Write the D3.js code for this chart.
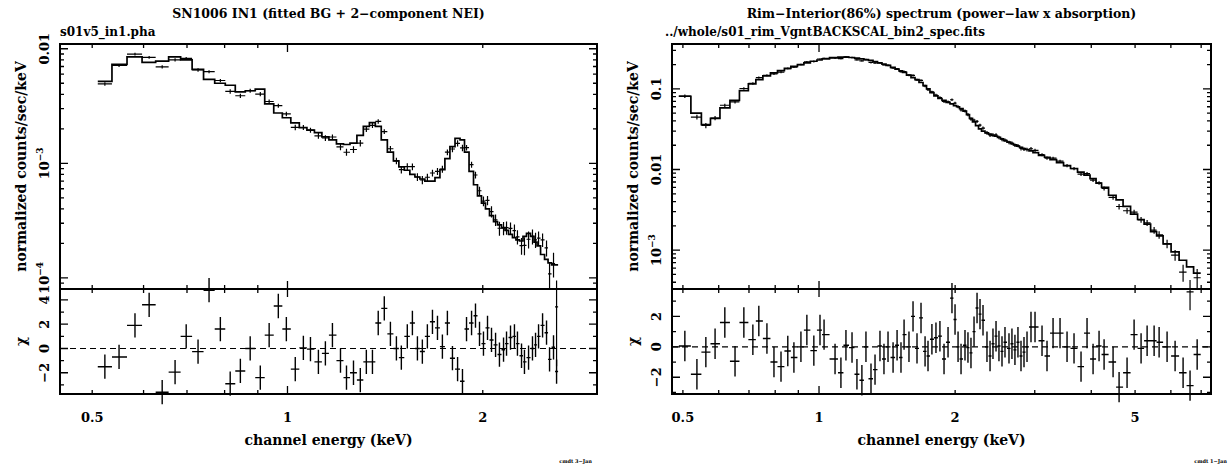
<!DOCTYPE html>
<html>
<head>
<meta charset="utf-8">
<script src="https://cdn.jsdelivr.net/npm/d3@7"></script>
<style>
  body { margin: 0; background: #fff; }
  text { font-family: "DejaVu Serif", "Liberation Serif", serif; font-weight: bold; fill: #000; }
</style>
</head>
<body>
<div id="chart"></div>
<script>
// left panel: SN1006 IN1, channel energies (keV) of each bin
var leftEnergy = [0.523,0.550,0.582,0.612,0.641,0.671,0.698,0.728,0.757,0.788,
  0.816,0.846,0.876,0.908,0.937,0.968,0.996,1.028,1.058,1.085,
  1.116,1.144,1.173,1.207,1.233,1.264,1.295,1.323,1.352,1.380,
  1.410,1.441,1.472,1.498,1.530,1.558,1.586,1.614,1.643,1.673,
  1.703,1.733,1.764,1.796,1.829,1.861,1.888,1.922,1.949,1.977,
  2.005,2.034,2.063,2.093,2.122,2.153,2.176,2.207,2.238,2.262,
  2.295,2.319,2.353,2.386,2.412,2.438,2.473,2.508,2.535,2.571,2.599]
// fitted model, normalized counts/sec/keV
var leftModel = [5.2e-3,7.3e-3,8.5e-3,7.6e-3,7.8e-3,8.5e-3,8.0e-3,6.6e-3,5.4e-3,5.0e-3,
  4.8e-3,4.2e-3,4.3e-3,4.45e-3,3.3e-3,2.75e-3,2.5e-3,2.25e-3,2.05e-3,1.95e-3,
  1.85e-3,1.7e-3,1.6e-3,1.48e-3,1.46e-3,1.5e-3,1.75e-3,2.1e-3,2.27e-3,2.1e-3,
  1.6e-3,1.25e-3,1.05e-3,9.3e-4,8.7e-4,8.0e-4,7.6e-4,7.3e-4,7.0e-4,7.0e-4,
  7.5e-4,8.8e-4,1.1e-3,1.4e-3,1.65e-3,1.6e-3,1.25e-3,8.5e-4,6.5e-4,5.2e-4,
  4.5e-4,4.0e-4,3.5e-4,3.1e-4,2.9e-4,2.75e-4,2.6e-4,2.4e-4,2.25e-4,2.15e-4,
  2.1e-4,2.3e-4,2.45e-4,2.3e-4,2.05e-4,1.9e-4,1.6e-4,1.45e-4,1.35e-4,1.3e-4,1.3e-4]
// residuals (chi)
var leftChi = [-1.5,-0.7,1.9,3.6,-3.6,-1.95,1.0,-0.26,4.8,1.6,
  -2.9,-1.85,0,-2.4,1.1,3.5,1.6,-1.7,0.05,-0.05,
  -1.1,-0.4,1.1,-1.0,-2.4,-2.0,-2.6,-1.1,-1.1,2.1,
  3.3,1.2,0,-0.75,1.0,2.1,0,-0.25,1.0,2.2,
  1.7,0.15,2.1,-0.8,-1.7,-2.7,1.6,2.1,2.7,1.2,
  0.4,1.7,0.7,0.3,-0.5,-0.1,0.4,0.9,1.0,0.4,
  -0.6,-1.1,-0.75,0,0.3,1.0,1.9,1.3,-0.9,0.1,-1.9]
// relative 1-sigma errors
var leftErr = [0.035,0.03,0.03,0.03,0.03,0.03,0.03,0.035,0.035,0.035,
  0.04,0.04,0.04,0.04,0.045,0.045,0.05,0.05,0.05,0.05,
  0.055,0.055,0.055,0.06,0.06,0.06,0.055,0.05,0.05,0.05,
  0.055,0.06,0.065,0.07,0.075,0.08,0.08,0.08,0.08,0.08,
  0.08,0.07,0.065,0.06,0.055,0.055,0.06,0.07,0.08,0.09,
  0.1,0.11,0.12,0.12,0.13,0.13,0.14,0.14,0.15,0.15,
  0.15,0.15,0.15,0.15,0.16,0.17,0.18,0.2,0.22,0.25,0.3]

// right panel: rim - interior spectrum
var rightEnergy = [0.505,0.537,0.562,0.589,0.619,0.652,0.682,0.714,0.736,0.767,
  0.795,0.824,0.853,0.880,0.912,0.940,0.974,1.005,1.026,1.085,
  1.118,1.147,1.183,1.213,1.244,1.270,1.303,1.330,1.364,1.392,
  1.421,1.458,1.488,1.518,1.542,1.581,1.614,1.647,1.681,1.716,
  1.742,1.777,1.814,1.851,1.890,1.929,1.968,1.999,2.030,2.061,
  2.103,2.135,2.168,2.202,2.236,2.270,2.305,2.352,2.389,2.425,
  2.463,2.500,2.539,2.578,2.631,2.671,2.712,2.754,2.797,2.840,
  2.884,2.943,3.004,3.113,3.193,3.293,3.412,3.536,3.664,3.797,
  3.915,4.037,4.162,4.270,4.470,4.609,4.800,4.975,5.155,5.316,
  5.509,5.651,5.885,6.130,6.385,6.615,6.859]
var rightModel = [0.081,0.05,0.036,0.043,0.058,0.072,0.095,0.115,0.13,0.145,
  0.158,0.168,0.18,0.19,0.2,0.21,0.22,0.228,0.235,0.245,
  0.248,0.248,0.245,0.24,0.235,0.23,0.225,0.218,0.21,0.203,
  0.196,0.185,0.176,0.167,0.16,0.148,0.138,0.13,0.12,0.11,
  0.1,0.09,0.082,0.076,0.072,0.068,0.065,0.062,0.06,0.057,
  0.053,0.048,0.043,0.039,0.035,0.032,0.03,0.0285,0.0275,0.0265,
  0.026,0.025,0.024,0.0228,0.0218,0.021,0.0202,0.0195,0.0188,0.0182,
  0.0177,0.017,0.0162,0.015,0.0142,0.0133,0.0122,0.0112,0.0103,0.0093,
  0.0085,0.0077,0.0068,0.006,0.0048,0.0042,0.0035,0.0028,0.0024,0.0021,
  0.0017,0.0015,0.0012,0.00095,0.00075,0.00062,0.00052]
var rightChi = [0.05,-1.8,-0.35,0.2,1.6,-0.95,1.6,0.47,1.7,0.55,
  -1.0,-1.3,-0.27,-0.7,0,1.1,-0.25,1.1,0.8,-0.8,
  -1.7,0.1,-0.05,-1.8,-2.2,0,-2.1,-1.5,0.05,-0.8,
  0,-0.7,0.1,-0.7,0.8,0,2.0,-0.1,1.9,-0.3,
  -0.6,0.5,0.6,0.7,-0.8,0.3,3.2,1.8,0,-0.8,
  0.1,-0.05,-0.4,1.0,2.55,2.15,1.75,0,-0.6,0.2,
  0.7,0.05,-0.3,0.3,-0.1,0.2,-0.2,0.3,-0.6,-0.35,
  0,1.3,1.3,0.4,-0.6,0.9,0.9,0,-0.1,-1.3,
  0.9,-0.8,0.05,-0.5,-1.0,-2.65,-1.7,0.8,-0.1,0.4,
  0.4,0.3,0,-0.6,-1.7,-2.55,-0.5]
var rightErr = [0.05,0.06,0.07,0.06,0.05,0.045,0.04,0.035,0.035,0.03,
  0.03,0.03,0.028,0.028,0.027,0.027,0.026,0.026,0.025,0.025,
  0.025,0.025,0.025,0.025,0.025,0.026,0.026,0.026,0.027,0.027,
  0.028,0.028,0.029,0.03,0.03,0.031,0.032,0.033,0.034,0.035,
  0.036,0.037,0.038,0.039,0.04,0.04,0.04,0.041,0.042,0.043,
  0.044,0.045,0.047,0.048,0.05,0.05,0.05,0.05,0.05,0.05,
  0.05,0.05,0.05,0.05,0.05,0.05,0.05,0.05,0.052,0.052,
  0.052,0.05,0.05,0.045,0.045,0.045,0.045,0.045,0.045,0.045,
  0.05,0.05,0.05,0.055,0.06,0.065,0.07,0.075,0.08,0.09,
  0.1,0.11,0.12,0.14,0.17,0.2,0.25]

// tick labels
var leftXTicks = [0.5, 1, 2]
var rightXTicks = [0.5, 1, 2, 5]
var leftYTickVals = [0.01, 1e-3, 1e-4]
var leftYTicks = [['0.01', null], ['10', '\u22123'], ['10', '\u22124']]
var rightYTickVals = [0.1, 0.01, 1e-3]
var rightYTicks = [['0.1', null], ['0.01', null], ['10', '\u22123']]
var leftChiTicks = [-2, 0, 2, 4]
var rightChiTicks = [-2, 0, 2]

var W = 1229, H = 466
var yTop = 44, yMid = 289, yBot = 394

var svg = d3.select('#chart').append('svg')
  .attr('width', W)
  .attr('height', H)
  .style('background', '#fff')

drawPanel({
  x0: 60, x1: 597,
  xDomain: [0.446, 3.0], yDomain: [8e-5, 0.011], chiDomain: [-3.75, 4.9],
  title: 'SN1006 IN1 (fitted BG + 2\u2212component NEI)',
  sub: 's01v5_in1.pha', subX: 60,
  energy: leftEnergy, model: leftModel, chi: leftChi, err: leftErr,
  xTicks: leftXTicks, yTickVals: leftYTickVals, yTicks: leftYTicks, chiTicks: leftChiTicks,
  note: 'cmdt  3\u2212Jan', noteX: 592
})

drawPanel({
  x0: 672, x1: 1211,
  xDomain: [0.473, 7.36], yDomain: [3.3e-4, 0.36], chiDomain: [-3.1, 3.8],
  title: 'Rim\u2212Interior(86%) spectrum (power\u2212law x absorption)',
  sub: '../whole/s01_rim_VgntBACKSCAL_bin2_spec.fits', subX: 665,
  energy: rightEnergy, model: rightModel, chi: rightChi, err: rightErr,
  xTicks: rightXTicks, yTickVals: rightYTickVals, yTicks: rightYTicks, chiTicks: rightChiTicks,
  note: 'cmdt  1\u2212Jan', noteX: 1227
})

function drawPanel(p) {
  var x = d3.scaleLog().domain(p.xDomain).range([p.x0, p.x1])
  var y = d3.scaleLog().domain(p.yDomain).range([yMid, yTop])
  var yc = d3.scaleLinear().domain(p.chiDomain).range([yBot, yMid])
  var g = svg.append('g')
  var n = p.energy.length

  // bin edges halfway (in log) between neighbouring channels
  var lo = p.energy.map(function(e, i) {
    return i == 0 ? e / Math.sqrt(p.energy[1] / e) : Math.sqrt(p.energy[i - 1] * e)
  })
  var hi = p.energy.map(function(e, i) {
    return i == n - 1 ? e * Math.sqrt(e / p.energy[i - 1]) : Math.sqrt(e * p.energy[i + 1])
  })

  // titles
  g.append('text').attr('x', (p.x0 + p.x1) / 2).attr('y', 18)
    .attr('text-anchor', 'middle').style('font-size', '12.5px').text(p.title)
  g.append('text').attr('x', p.subX).attr('y', 36)
    .style('font-size', '12px').text(p.sub)

  // model step line
  var pts = p.model.map(function(m, i) { return [lo[i], m] })
  pts.push([hi[n - 1], p.model[n - 1]])
  g.append('path')
    .attr('d', d3.line().x(function(d) { return x(d[0]) }).y(function(d) { return y(d[1]) })
      .curve(d3.curveStepAfter)(pts))
    .attr('fill', 'none').attr('stroke', '#000').attr('stroke-width', 1.7)

  // data crosses (upper) and residual crosses (lower)
  var up = '', low = ''
  for (var i = 0; i < n; i++) {
    var s = p.model[i] * p.err[i]
    var d = p.model[i] + p.chi[i] * s
    up += 'M' + x(lo[i]) + ',' + y(d) + 'H' + x(hi[i]) +
      'M' + x(p.energy[i]) + ',' + y(d - s) + 'V' + y(d + s)
    low += 'M' + x(lo[i]) + ',' + yc(p.chi[i]) + 'H' + x(hi[i]) +
      'M' + x(p.energy[i]) + ',' + yc(p.chi[i] - 1) + 'V' + yc(p.chi[i] + 1)
  }
  g.append('path').attr('d', up).attr('fill', 'none')
    .attr('stroke', '#000').attr('stroke-width', 1.2)
  g.append('path').attr('d', low).attr('fill', 'none')
    .attr('stroke', '#000').attr('stroke-width', 1.4)

  // zero line
  g.append('line').attr('x1', p.x0).attr('x2', p.x1)
    .attr('y1', yc(0)).attr('y2', yc(0))
    .attr('stroke', '#000').attr('stroke-width', 1.2).attr('stroke-dasharray', '6,4')

  // frames
  g.append('rect').attr('x', p.x0).attr('y', yTop)
    .attr('width', p.x1 - p.x0).attr('height', yBot - yTop)
    .attr('fill', 'none').attr('stroke', '#000').attr('stroke-width', 2)
  g.append('line').attr('x1', p.x0).attr('x2', p.x1).attr('y1', yMid).attr('y2', yMid)
    .attr('stroke', '#000').attr('stroke-width', 2)

  // x ticks (inward on every horizontal edge)
  var tk = ''
  x.ticks().forEach(function(v) {
    var major = Math.abs(Math.log10(v) - Math.round(Math.log10(v))) < 1e-6
    var len = major ? 8 : 4
    var px = x(v)
    tk += 'M' + px + ',' + yTop + 'v' + len
    tk += 'M' + px + ',' + yMid + 'v' + (-len)
    tk += 'M' + px + ',' + yMid + 'v' + len
    tk += 'M' + px + ',' + yBot + 'v' + (-len)
  })
  // log y ticks
  y.ticks().forEach(function(v) {
    var major = Math.abs(Math.log10(v) - Math.round(Math.log10(v))) < 1e-6
    var len = major ? 8 : 4
    tk += 'M' + p.x0 + ',' + y(v) + 'h' + len
    tk += 'M' + p.x1 + ',' + y(v) + 'h' + (-len)
  })
  // chi ticks
  yc.ticks(8).forEach(function(v) {
    var len = p.chiTicks.indexOf(v) >= 0 ? 8 : 4
    tk += 'M' + p.x0 + ',' + yc(v) + 'h' + len
    tk += 'M' + p.x1 + ',' + yc(v) + 'h' + (-len)
  })
  g.append('path').attr('d', tk).attr('fill', 'none')
    .attr('stroke', '#000').attr('stroke-width', 1.3)

  // x tick labels
  g.selectAll('.xl').data(p.xTicks).enter().append('text')
    .attr('x', function(d) { return x(d) }).attr('y', 422)
    .attr('text-anchor', 'middle').style('font-size', '13px')
    .text(function(d) { return d })

  // y tick labels, rotated like the original
  p.yTickVals.forEach(function(v, i) {
    var t = g.append('text')
      .attr('transform', 'translate(' + (p.x0 - 11) + ',' + y(v) + ') rotate(-90)')
      .attr('text-anchor', 'middle').style('font-size', '13px')
    t.append('tspan').text(p.yTicks[i][0])
    if (p.yTicks[i][1]) {
      t.append('tspan').attr('dy', -6).style('font-size', '9px').text(p.yTicks[i][1])
    }
  })
  p.chiTicks.forEach(function(v) {
    g.append('text')
      .attr('transform', 'translate(' + (p.x0 - 11) + ',' + yc(v) + ') rotate(-90)')
      .attr('text-anchor', 'middle').style('font-size', '13px')
      .text(v < 0 ? '\u2212' + Math.abs(v) : v)
  })

  // axis titles
  g.append('text')
    .attr('transform', 'translate(' + (p.x0 - 34) + ',' + ((yTop + yMid) / 2) + ') rotate(-90)')
    .attr('text-anchor', 'middle').style('font-size', '14px')
    .text('normalized counts/sec/keV')
  g.append('text')
    .attr('transform', 'translate(' + (p.x0 - 34) + ',' + ((yMid + yBot) / 2) + ') rotate(-90)')
    .attr('text-anchor', 'middle').style('font-size', '14px')
    .text('\u03c7')
  g.append('text').attr('x', (p.x0 + p.x1) / 2).attr('y', 445)
    .attr('text-anchor', 'middle').style('font-size', '14px')
    .text('channel energy (keV)')

  g.append('text').attr('x', p.noteX).attr('y', 463)
    .attr('text-anchor', 'end').style('font-size', '5px').text(p.note)
}
</script>
</body>
</html>
